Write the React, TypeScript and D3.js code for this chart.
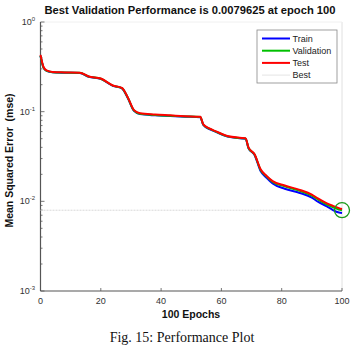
import React, { useEffect, useRef } from "react";
import * as d3 from "d3";

const epochs = [0, 1, 2, 4, 8, 13, 16, 20, 24, 27, 29, 31, 33, 38, 43, 48, 53, 54, 56, 58, 62, 66, 68, 69, 71, 73, 75, 77, 81, 86, 90, 92, 95, 97, 99, 100];
const trainPerf = [0.42, 0.31, 0.285, 0.275, 0.272, 0.27, 0.245, 0.232, 0.194, 0.182, 0.141, 0.102, 0.094, 0.091, 0.0895, 0.088, 0.0865, 0.071, 0.064, 0.0599, 0.0527, 0.0505, 0.05, 0.039, 0.0329, 0.0218, 0.0183, 0.0158, 0.0138, 0.0124, 0.011, 0.0099, 0.0088, 0.008, 0.0075, 0.0074];
const valPerf = [0.42, 0.31, 0.285, 0.276, 0.273, 0.271, 0.246, 0.233, 0.195, 0.183, 0.142, 0.103, 0.095, 0.092, 0.09, 0.0885, 0.087, 0.0715, 0.0645, 0.0603, 0.053, 0.0508, 0.0503, 0.0393, 0.0332, 0.0224, 0.0189, 0.0165, 0.0147, 0.0131, 0.0116, 0.0105, 0.0092, 0.0086, 0.0081, 0.0079625];
const testPerf = [0.43, 0.315, 0.288, 0.277, 0.274, 0.272, 0.247, 0.234, 0.196, 0.184, 0.143, 0.104, 0.096, 0.093, 0.091, 0.089, 0.0875, 0.072, 0.065, 0.0607, 0.0535, 0.0512, 0.0507, 0.0397, 0.0336, 0.0228, 0.0192, 0.0168, 0.015, 0.0134, 0.0119, 0.0108, 0.0095, 0.0089, 0.0084, 0.0082];
const bestEpoch = 100;
const bestPerf = 0.0079625;
const xTicks = [0, 20, 40, 60, 80, 100];
const yDecades = [0, -1, -2, -3];
const legendItems = [
  { name: "Train", color: "#0000ff" },
  { name: "Validation", color: "#00c000" },
  { name: "Test", color: "#ff0000" },
  { name: "Best", color: "#e4e4e4" },
];

export default function App() {
  const ref = useRef<SVGSVGElement>(null);

  useEffect(() => {
    const svg = d3.select(ref.current);
    svg.selectAll("*").remove();

    const left = 40.5, right = 342, top = 22, bottom = 291;
    const x = d3.scaleLinear().domain([0, 100]).range([left, right]);
    const y = d3.scaleLog().domain([0.001, 1]).range([bottom, top]);
    const font = "Liberation Sans, Arial, sans-serif";

    svg.append("rect").attr("width", 355).attr("height", 348).attr("fill", "#fff");

    // title
    svg.append("text")
      .attr("x", 190).attr("y", 14)
      .attr("text-anchor", "middle")
      .attr("font-family", font).attr("font-weight", "bold").attr("font-size", 11.2)
      .attr("fill", "#111")
      .text("Best Validation Performance is 0.0079625 at epoch 100");

    // box
    svg.append("line").attr("x1", right).attr("x2", right).attr("y1", top).attr("y2", bottom)
      .attr("stroke", "#e0e0e0").attr("stroke-width", 1);
    svg.append("line").attr("x1", left).attr("x2", right).attr("y1", top).attr("y2", top)
      .attr("stroke", "#f0f0f0").attr("stroke-width", 1);

    const axisColor = "#555";
    // y minor/major ticks
    const g = svg.append("g");
    for (let p = -3; p < 0; p++) {
      for (let m = 1; m < 10; m++) {
        const v = m * Math.pow(10, p);
        const len = m === 1 ? 4 : 2;
        g.append("line").attr("x1", left).attr("x2", left + len)
          .attr("y1", y(v)).attr("y2", y(v)).attr("stroke", axisColor).attr("stroke-width", 0.8);
      }
    }
    g.append("line").attr("x1", left).attr("x2", left + 4).attr("y1", y(1)).attr("y2", y(1))
      .attr("stroke", axisColor).attr("stroke-width", 0.8);

    // y tick labels
    yDecades.forEach((d) => {
      const t = svg.append("text")
        .attr("x", 35).attr("y", y(Math.pow(10, d)) + 3)
        .attr("text-anchor", "end")
        .attr("font-family", font).attr("font-size", 9).attr("fill", "#333");
      t.append("tspan").text("10");
      t.append("tspan").attr("dy", -4).attr("font-size", 6).text(String(d));
    });

    // x ticks
    xTicks.forEach((v) => {
      svg.append("line").attr("x1", x(v)).attr("x2", x(v)).attr("y1", bottom).attr("y2", bottom - 3)
        .attr("stroke", axisColor).attr("stroke-width", 0.8);
      svg.append("text")
        .attr("x", x(v)).attr("y", bottom + 13)
        .attr("text-anchor", "middle")
        .attr("font-family", font).attr("font-size", 9).attr("fill", "#333")
        .text(String(v));
    });

    // axes lines
    svg.append("line").attr("x1", left).attr("x2", left).attr("y1", top).attr("y2", bottom)
      .attr("stroke", axisColor).attr("stroke-width", 1.2);
    svg.append("line").attr("x1", left).attr("x2", right).attr("y1", bottom).attr("y2", bottom)
      .attr("stroke", axisColor).attr("stroke-width", 1.2);

    // axis labels
    svg.append("text")
      .attr("x", 191).attr("y", 318)
      .attr("text-anchor", "middle")
      .attr("font-family", font).attr("font-weight", "bold").attr("font-size", 10.5)
      .attr("fill", "#111").text("100 Epochs");
    svg.append("text")
      .attr("transform", `translate(13,${(top + bottom) / 2 + 4}) rotate(-90)`)
      .attr("text-anchor", "middle")
      .attr("font-family", font).attr("font-weight", "bold").attr("font-size", 10.5)
      .attr("fill", "#111").attr("xml:space", "preserve").text("Mean Squared Error  (mse)");

    // best line
    svg.append("line").attr("x1", left).attr("x2", right).attr("y1", y(bestPerf)).attr("y2", y(bestPerf))
      .attr("stroke", "#d8d8d8").attr("stroke-width", 1).attr("stroke-dasharray", "2,1");

    const line = d3.line<number>().x((d, i) => x(epochs[i])).y((d) => y(d)).curve(d3.curveMonotoneX);
    const series = [
      { data: trainPerf, color: legendItems[0].color },
      { data: valPerf, color: legendItems[1].color },
      { data: testPerf, color: legendItems[2].color },
    ];
    series.forEach((s) => {
      svg.append("path").attr("d", line(s.data)).attr("fill", "none")
        .attr("stroke", s.color).attr("stroke-width", 2).attr("stroke-linejoin", "round");
    });

    // best circle
    svg.append("circle").attr("cx", x(bestEpoch)).attr("cy", y(bestPerf)).attr("r", 7.5)
      .attr("fill", "none").attr("stroke", "#1a9a1a").attr("stroke-width", 1.3);

    // legend
    const lg = svg.append("g");
    lg.append("rect").attr("x", 257).attr("y", 30).attr("width", 80).attr("height", 53)
      .attr("fill", "#fff").attr("stroke", "#888").attr("stroke-width", 0.8);
    legendItems.forEach((it, i) => {
      const yy = 38.5 + i * 12.2;
      lg.append("line").attr("x1", 262).attr("x2", 290).attr("y1", yy).attr("y2", yy)
        .attr("stroke", it.color).attr("stroke-width", it.name === "Best" ? 1 : 2);
      lg.append("text").attr("x", 292.5).attr("y", yy + 3.2)
        .attr("font-family", font).attr("font-size", 9).attr("fill", "#222").text(it.name);
    });

    // caption
    svg.append("text")
      .attr("x", 182).attr("y", 342)
      .attr("text-anchor", "middle")
      .attr("font-family", "Liberation Serif, Times New Roman, serif").attr("font-size", 14)
      .attr("fill", "#111").text("Fig. 15: Performance Plot");
  }, []);

  return (
    <svg ref={ref} width={355} height={348} style={{ position: "absolute", left: 0, top: 0 }} />
  );
}
